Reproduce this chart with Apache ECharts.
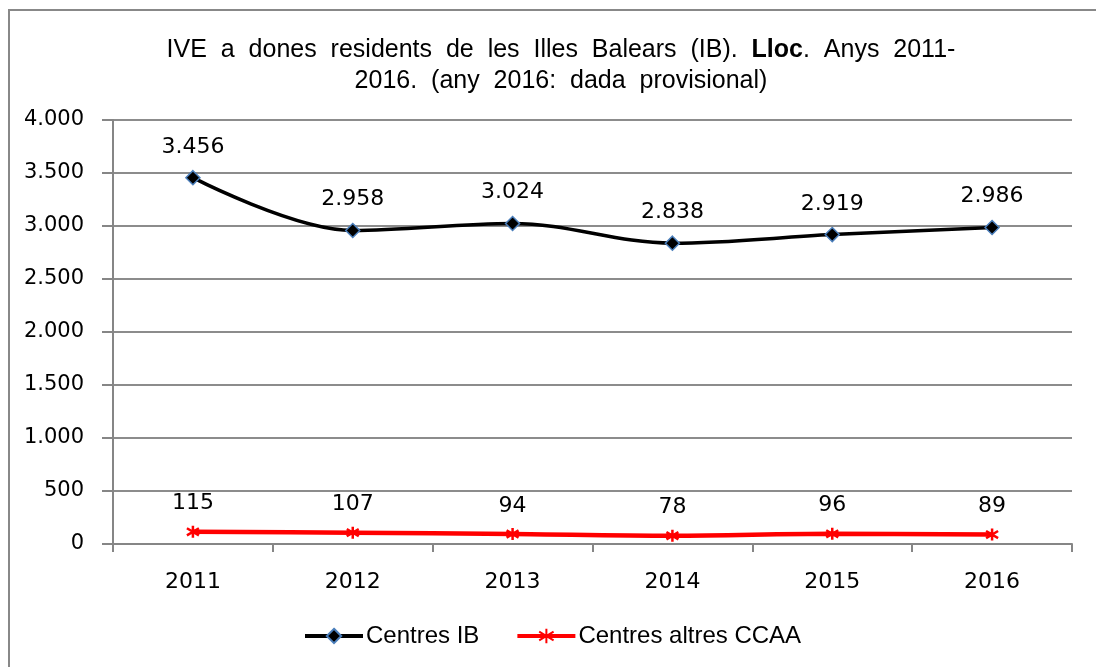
<!DOCTYPE html>
<html>
<head>
<meta charset="utf-8">
<script src="https://cdn.jsdelivr.net/npm/echarts@6/dist/echarts.min.js"></script>
<style>
  html, body { margin: 0; padding: 0; background: #fff; }
  #chart { width: 1096px; height: 667px; }
</style>
</head>
<body>
<div id="chart"></div>
<script>
// dades
const years = ["2011", "2012", "2013", "2014", "2015", "2016"];
const centresIB = [3456, 2958, 3024, 2838, 2919, 2986];
const centresAltres = [115, 107, 94, 78, 96, 89];
const yTicks = [0, 500, 1000, 1500, 2000, 2500, 3000, 3500, 4000];

const fmt = (v) => String(v).replace(/\B(?=(\d{3})+(?!\d))/g, ".");
const asterisk = "path://M5,0L5,10M0,2L10,8M0,8L10,2";

const chart = echarts.init(document.getElementById("chart"));
const option = {
  backgroundColor: "#fff",
  animation: false,
  graphic: [
    {
      type: "rect",
      shape: { x: 9, y: 10, width: 1200, height: 800 },
      style: { fill: "none", stroke: "#888", lineWidth: 2 },
    },
  ],
  title: {
    left: 556,
    textAlign: "center",
    top: 30,
    text: "IVE  a  dones  residents  de  les  Illes  Balears  (IB).  {b|Lloc}.  Anys  2011-\n2016.  (any  2016:  dada  provisional)",
    textStyle: {
      fontFamily: "Liberation Sans",
      fontSize: 25,
      fontWeight: "normal",
      color: "#000",
      lineHeight: 31,
      rich: {
        b: { fontFamily: "Liberation Sans", fontSize: 25, fontWeight: "bold", color: "#000" },
      },
    },
  },
  legend: {
    top: 619,
    left: 298,
    itemWidth: 58,
    itemHeight: 18,
    itemGap: 36,
    data: [
      { name: "Centres IB", lineStyle: { width: 4 } },
      { name: "Centres altres CCAA", lineStyle: { width: 4 } },
    ],
    textStyle: { fontFamily: "Liberation Sans", fontSize: 24, color: "#000", padding: [0, 0, 0, -2] },
  },
  grid: { left: 113, right: 24, top: 120, bottom: 123, containLabel: false },
  xAxis: {
    type: "category",
    data: years,
    boundaryGap: true,
    axisLine: { lineStyle: { color: "#868686", width: 2 } },
    axisTick: { show: true, length: 8, lineStyle: { color: "#868686", width: 2 } },
    axisLabel: { fontFamily: "DejaVu Sans", fontSize: 22, color: "#000", margin: 27 },
  },
  yAxis: {
    type: "value",
    min: 0,
    max: 4000,
    interval: 500,
    axisLine: { show: true, lineStyle: { color: "#868686", width: 2 } },
    axisTick: { show: true, length: 11, lineStyle: { color: "#868686", width: 2 } },
    splitLine: { lineStyle: { color: "#8c8c8c", width: 2 } },
    axisLabel: {
      fontFamily: "DejaVu Sans",
      fontSize: 21,
      color: "#000",
      margin: 29,
      formatter: (v) => (yTicks.includes(v) ? fmt(v) : ""),
    },
  },
  series: [
    {
      name: "Centres IB",
      type: "line",
      data: centresIB,
      smooth: 0.35,
      symbol: "diamond",
      symbolSize: 14,
      lineStyle: { color: "#000", width: 3.5 },
      itemStyle: { color: "#000", borderColor: "#4a7ebb", borderWidth: 1.5 },
      label: {
        show: true,
        position: "top",
        distance: 12,
        fontFamily: "DejaVu Sans",
        fontSize: 22,
        color: "#000",
        formatter: (p) => fmt(p.value),
      },
      z: 3,
    },
    {
      name: "Centres altres CCAA",
      type: "line",
      data: centresAltres,
      smooth: 0.35,
      symbol: asterisk,
      symbolSize: 12,
      lineStyle: { color: "#ff0000", width: 4.5 },
      itemStyle: { color: "#ff0000", borderColor: "#ff0000", borderWidth: 2.5 },
      label: {
        show: true,
        position: "top",
        distance: 10,
        fontFamily: "DejaVu Sans",
        fontSize: 22,
        color: "#000",
        formatter: (p) => fmt(p.value),
      },
      z: 2,
    },
  ],
};
chart.setOption(option);
</script>
</body>
</html>
